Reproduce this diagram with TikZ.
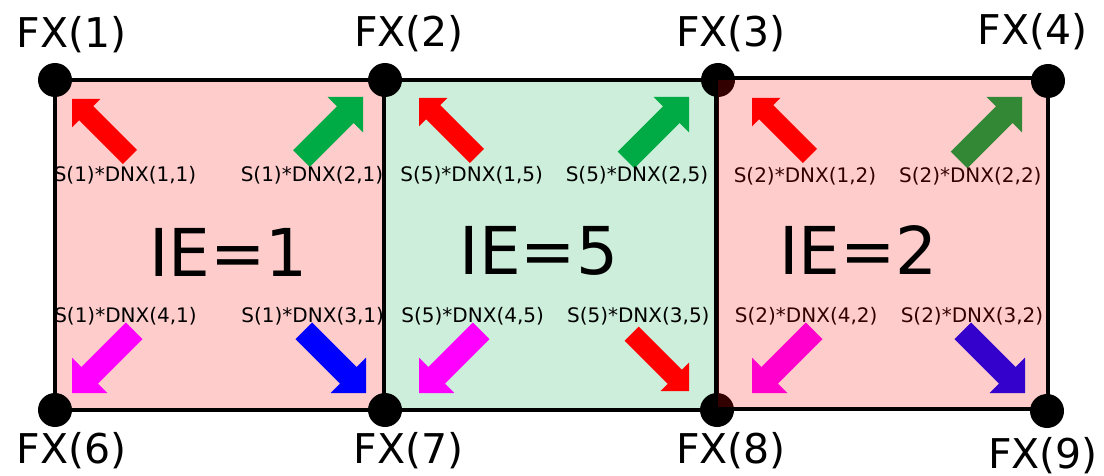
\documentclass[tikz,border=0pt]{standalone}
\usepackage{fontspec}
\setmainfont{DejaVu Sans}
\definecolor{pinkfill}{HTML}{FFCCCC}
\definecolor{greenfill}{HTML}{CCEEDA}
\definecolor{agreen}{HTML}{00AA44}
\definecolor{amag}{HTML}{FF00FF}
% #1,#2 tip; #3 angle; #4 length; #5 head half width; #6 shaft half width; #7 colour
\newcommand\blockarrow[7]{%
  \fill[#7, shift={(#1,#2)}, rotate=#3] (0,0) -- (-#5,#5) -- (-#5,#6) -- (-#4,#6) -- (-#4,-#6) -- (-#5,-#6) -- (-#5,-#5) -- cycle;}
\newcommand\smallarrow[5]{\blockarrow{#1}{#2}{#3}{#4}{20}{10}{#5}}
\newcommand\bigarrow[5]{\blockarrow{#1}{#2}{#3}{#4}{25}{11.8}{#5}}
\begin{document}
\begin{tikzpicture}[x=1pt,y=-1pt,
  dot/.style={circle,fill=black,inner sep=0pt,minimum size=34pt},
  fxlab/.style={anchor=base,inner sep=0pt,font=\fontsize{41}{41}\selectfont},
  slab/.style={anchor=base,inner sep=0pt,font=\fontsize{20}{20}\selectfont},
  ielab/.style={anchor=base,inner sep=0pt,font=\fontsize{66}{66}\selectfont},
  cellborder/.style={draw=black,line width=4pt}]
\useasboundingbox (0,0) rectangle (1104,476);
% cells
\fill[pinkfill] (55,80) rectangle (384,410);
\fill[greenfill] (384,80) rectangle (717,410);
\draw[cellborder] (55,80) rectangle (384,410);
\draw[cellborder] (384,80) rectangle (717,410);
% nodes
\node[dot] (fx1) at (55,80) {};
\node[dot] (fx2) at (385,80) {};
\node[dot] (fx3) at (718,80) {};
\node[dot] (fx6) at (55,410) {};
\node[dot] (fx7) at (385,410) {};
\node[dot] (fx8) at (717,410) {};
% arrows element 1
\smallarrow{72}{99}{135}{82}{red}
\bigarrow{363}{97}{45}{87}{agreen}
\bigarrow{72}{393}{225}{88}{amag}
\bigarrow{366}{393}{315}{88}{blue}
% arrows element 5
\smallarrow{419}{98}{135}{82}{red}
\bigarrow{689}{97}{45}{89}{agreen}
\bigarrow{419}{393}{225}{88}{amag}
\smallarrow{689}{391}{315}{81}{red}
% arrows element 2
\smallarrow{752}{98}{135}{82}{red}
\bigarrow{1022}{97}{45}{89}{agreen}
\bigarrow{752}{393}{225}{88}{amag}
\bigarrow{1025}{393}{315}{88}{blue}
% small labels
\node[slab] (s11) at (125,182) {S(1)*DNX(1,1)};
\node[slab] (s21) at (312,182) {S(1)*DNX(2,1)};
\node[slab] (s41) at (125.5,322) {S(1)*DNX(4,1)};
\node[slab] (s31) at (312.7,322) {S(1)*DNX(3,1)};
\node[slab] (s15) at (471.7,182) {S(5)*DNX(1,5)};
\node[slab] (s25) at (637,182) {S(5)*DNX(2,5)};
\node[slab] (s45) at (472.7,322) {S(5)*DNX(4,5)};
\node[slab] (s35) at (638.3,322) {S(5)*DNX(3,5)};
\node[slab] (s12) at (805,183) {S(2)*DNX(1,2)};
\node[slab] (s22) at (970.3,183) {S(2)*DNX(2,2)};
\node[slab] (s42) at (806.2,322) {S(2)*DNX(4,2)};
\node[slab] (s32) at (972,322) {S(2)*DNX(3,2)};
% element 2 overlay
\fill[red,opacity=0.2] (716,78) rectangle (1048,409);
\draw[cellborder] (716,78) rectangle (1048,409);
% big labels
\node[ielab] (ie1) at (228.5,276) {IE=1};
\node[ielab] (ie5) at (539,274) {IE=5};
\node[ielab] (ie2) at (858.5,274) {IE=2};
% remaining dots
\node[dot] (fx4) at (1048,81) {};
\node[dot] (fx9) at (1047,411) {};
% FX labels
\node[fxlab] (l1) at (71.5,48) {FX(1)};
\node[fxlab] (l2) at (409,47) {FX(2)};
\node[fxlab] (l3) at (731,47) {FX(3)};
\node[fxlab] (l4) at (1032.5,45) {FX(4)};
\node[fxlab] (l6) at (71.5,463) {FX(6)};
\node[fxlab] (l7) at (408.5,463) {FX(7)};
\node[fxlab] (l8) at (731,463) {FX(8)};
\node[fxlab] (l9) at (1043,468) {FX(9)};
\end{tikzpicture}
\end{document}
